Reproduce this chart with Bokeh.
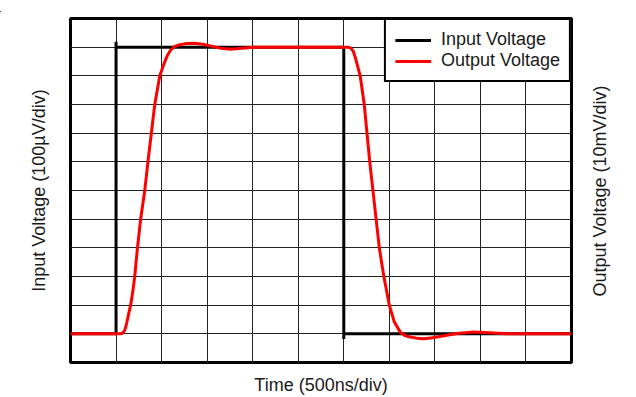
import math
from bokeh.plotting import figure
from bokeh.layouts import column
from bokeh.models import Range1d, FixedTicker, LinearAxis, Div
from bokeh.embed import file_html
from bokeh.resources import INLINE

# Time in divisions (500 ns/div), voltages in divisions
input_t = [0, 1.0, 1.0, 1.0, 1.03, 6.0, 6.0, 6.0, 6.03, 11]
input_v = [1, 1, 11.19, 11.0, 11.0, 11.0, 0.82, 1.0, 1.0, 1.0]

output_t = [0, 1.10, 1.15, 1.19, 1.23, 1.27, 1.32, 1.37, 1.41, 1.47, 1.54, 1.63,
            1.70, 1.76, 1.85, 1.96, 2.06, 2.13, 2.20, 2.28, 2.38, 2.55, 2.71,
            2.90, 3.14, 3.30, 3.51, 3.75, 4.02, 4.5, 5.0, 6.10,
            6.16, 6.21, 6.26, 6.31, 6.36, 6.45, 6.51, 6.57, 6.64, 6.71, 6.78,
            6.88, 7.00, 7.11, 7.24, 7.33, 7.43, 7.60, 7.76, 7.95, 8.20, 8.49,
            8.85, 9.20, 9.59, 11]
output_v = [1, 1.0, 1.03, 1.12, 1.35, 1.65, 2.0, 2.5, 3.0, 4.0, 5.0, 6.0,
            7.0, 7.8, 9.0, 10.0, 10.45, 10.72, 10.9, 11.02, 11.08, 11.13, 11.14,
            11.1, 11.02, 10.96, 10.93, 10.96, 11.0, 11.0, 11.0, 11.0,
            10.96, 10.85, 10.6, 10.3, 10.0, 9.0, 8.0, 7.0, 6.0, 5.0, 4.0,
            3.0, 2.0, 1.41, 1.06, 0.95, 0.9, 0.85, 0.83, 0.86, 0.93, 1.01,
            1.06, 1.04, 1.0, 1]

x_divs = 11
y_divs = 12
x_label = "Time (500ns/div)"
y_label_left = "Input Voltage (100µV/div)"
y_label_right = "Output Voltage (10mV/div)"
right_label_start = 2.3  # division where the right-hand title begins
series_names = ["Input Voltage", "Output Voltage"]

FONT = "Liberation Sans"
W = 636

# thin rule across the top of the page
top = Div(text='<div style="height:6px;margin:0;padding:0;border-bottom:1px solid #000;'
               'width:636px;"></div>',
          width=W, height=7, margin=0)

p = figure(width=W, height=390, output_backend="svg", toolbar_location=None,
           x_range=Range1d(0, x_divs), y_range=Range1d(0, y_divs),
           min_border_left=70, min_border_right=65, min_border_top=11,
           min_border_bottom=33)

p.outline_line_color = "black"
p.outline_line_width = 3

for g, n in ((p.xgrid, x_divs), (p.ygrid, y_divs)):
    g.ticker = FixedTicker(ticks=list(range(1, n)))
    g.grid_line_color = "#222222"
    g.grid_line_width = 1

p.line(input_t, input_v, color="black", line_width=3, legend_label=series_names[0])
p.line(output_t, output_v, color="#ff0000", line_width=3, legend_label=series_names[1])

right_axis = LinearAxis()
p.add_layout(right_axis, "right")

for ax in (p.xaxis[0], p.yaxis[0], right_axis):
    ax.ticker = FixedTicker(ticks=[])
    ax.axis_line_color = None
    ax.major_tick_line_color = None
    ax.minor_tick_line_color = None
    ax.major_label_text_font_size = "0px"
    ax.axis_label_text_font = FONT
    ax.axis_label_text_font_size = "18px"
    ax.axis_label_text_font_style = "normal"
    ax.axis_label_text_color = "#1a1a1a"

p.xaxis[0].axis_label = x_label
p.xaxis[0].axis_label_standoff = 12
p.yaxis[0].axis_label = y_label_left
p.yaxis[0].axis_label_standoff = 22

# right-hand title drawn as the single tick label of the right axis
right_axis.ticker = FixedTicker(ticks=[right_label_start])
right_axis.major_label_overrides = {right_label_start: y_label_right}
right_axis.major_label_orientation = math.pi / 2
right_axis.major_label_standoff = 29
right_axis.major_label_text_font = FONT
right_axis.major_label_text_font_size = "18px"
right_axis.major_label_text_color = "#1a1a1a"
right_axis.major_tick_out = 0
right_axis.major_tick_in = 0

lg = p.legend[0]
lg.location = "top_right"
lg.margin = 0
lg.padding = 9
lg.spacing = 0
lg.glyph_width = 36
lg.glyph_height = 18
lg.label_height = 18
lg.label_standoff = 10
lg.label_text_font = FONT
lg.label_text_font_size = "18px"
lg.label_text_color = "#1a1a1a"
lg.border_line_color = "black"
lg.border_line_alpha = 1.0
lg.border_line_width = 2.5
lg.background_fill_color = "white"
lg.background_fill_alpha = 1.0

layout = column(top, p, spacing=0)

open("out.html", "w").write(file_html(layout, INLINE))
